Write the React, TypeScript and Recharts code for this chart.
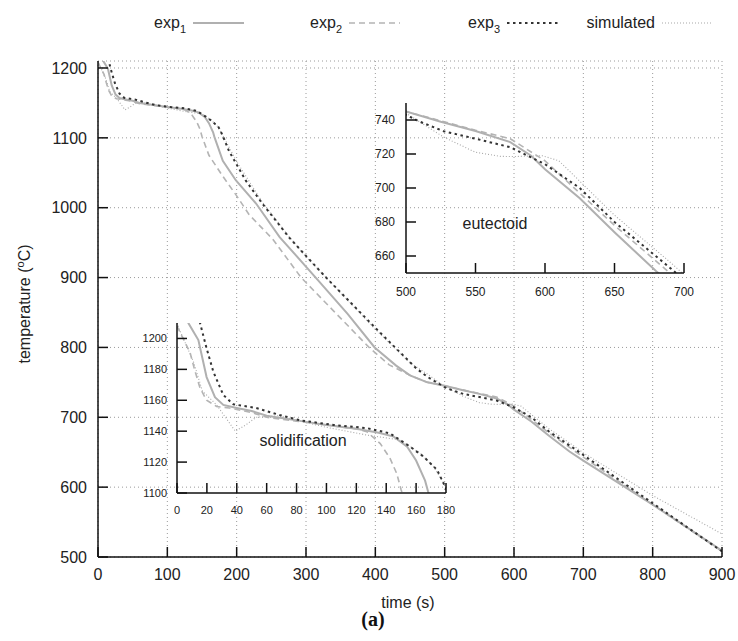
import { CartesianGrid, Line, LineChart, XAxis, YAxis } from "recharts";

const FONT = '"Liberation Sans", Arial, Helvetica, sans-serif';

// time (s) / temperature (°C)
const EXP1_TIME = [5, 7.6, 14.3, 19.8, 25.4, 31, 40, 50, 60, 80, 100, 120, 135, 145, 154, 160, 166, 168, 180, 199, 228, 262, 314, 360, 399, 430, 450, 475, 500, 525, 550, 575, 590, 600, 625, 650, 680, 700, 800, 900];
const EXP1_TEMP = [1218, 1210, 1199, 1175, 1162, 1157, 1155, 1153, 1150, 1147, 1144, 1141.5, 1139, 1136.5, 1130, 1121, 1108, 1101, 1067, 1039, 1006, 958, 900, 848, 800, 774, 760, 750, 745, 739, 733.5, 727, 719, 711, 694, 674, 651, 638, 575, 509];

const EXP2_TIME = [0, 2, 8.7, 12, 15.4, 19.8, 26.5, 35, 50, 60, 80, 100, 120, 127, 136, 142.5, 147, 150, 160, 180, 200, 218, 252, 293, 340, 391, 420, 450, 475, 500, 525, 550, 575, 600, 625, 650, 687, 700, 800, 900];
const EXP2_TEMP = [1208, 1204, 1191, 1179, 1168, 1160, 1156, 1155, 1152, 1149, 1146.5, 1144, 1141.5, 1139.7, 1132, 1122.5, 1112.7, 1102, 1075, 1045, 1017, 990, 955, 900, 852, 800, 775, 760, 750, 745, 739.5, 734, 729, 716, 697, 678, 652, 643, 575, 508];

const EXP3_TIME = [12, 15.4, 19.8, 24.3, 31, 37.7, 53, 68.6, 82.5, 104.8, 127, 142.5, 156, 165, 174, 179.5, 189, 213, 237, 276, 300, 329, 400, 459, 475, 500, 510, 527, 550, 575, 600, 625, 650, 690, 700, 800, 900];
const EXP3_TEMP = [1222, 1210, 1193.6, 1178.5, 1163.4, 1157.4, 1155, 1150.5, 1147, 1144, 1142, 1138.6, 1130, 1123.5, 1115, 1104, 1081, 1039, 1006, 957, 931, 900, 828, 770, 758, 743, 739, 733.4, 729, 724, 714, 700, 680, 653, 646, 577, 508];

const SIM_TIME = [0, 2, 11, 17, 26.5, 39, 46, 53, 68, 80, 100, 127, 149.5, 162.8, 171.7, 178.4, 200, 237, 276, 300, 329, 400, 450, 475, 500, 527, 550, 568, 578, 598, 610, 625, 650, 692, 700, 800, 900];
const SIM_TEMP = [1210, 1205, 1185, 1166, 1157, 1140, 1144, 1149, 1150, 1147, 1142.5, 1137.5, 1134.3, 1125.7, 1117, 1106.5, 1066, 1008, 958, 930, 900, 826, 778, 762, 744, 730, 721, 718.6, 718.5, 719, 716, 704, 684, 655, 649, 588, 533];

const MAIN_X_TICKS = [0, 100, 200, 300, 400, 500, 600, 700, 800, 900];
const MAIN_Y_TICKS = [500, 600, 700, 800, 900, 1000, 1100, 1200];
const EUT_X_TICKS = [500, 550, 600, 650, 700];
const EUT_Y_TICKS = [660, 680, 700, 720, 740];
const SOL_X_TICKS = [0, 20, 40, 60, 80, 100, 120, 140, 160, 180];
const SOL_Y_TICKS = [1100, 1120, 1140, 1160, 1180, 1200];

const zip = (ts: number[], vs: number[]) => ts.map((t, i) => ({ t, T: vs[i] }));

type Series = {
  key: string;
  label: string;
  sub?: string;
  data: { t: number; T: number }[];
  stroke: string;
  width: number;
  dash?: string;
};

// drawing order: simulated underneath, exp3 on top
const SERIES: Series[] = [
  { key: "sim", label: "simulated", data: zip(SIM_TIME, SIM_TEMP), stroke: "#a8a8a8", width: 1.1, dash: "1 2" },
  { key: "exp2", label: "exp", sub: "2", data: zip(EXP2_TIME, EXP2_TEMP), stroke: "#b4b4b4", width: 1.6, dash: "6 4" },
  { key: "exp1", label: "exp", sub: "1", data: zip(EXP1_TIME, EXP1_TEMP), stroke: "#b0b0b0", width: 2 },
  { key: "exp3", label: "exp", sub: "3", data: zip(EXP3_TIME, EXP3_TEMP), stroke: "#333333", width: 2, dash: "2.5 3.5" },
];

const LEGEND_ORDER = ["exp1", "exp2", "exp3", "sim"];
const LEGEND_TEXT_END = [186, 342, 500, 655];

const axisLine = { stroke: "#111", strokeWidth: 1.5 };

function lines() {
  return SERIES.map((s) => (
    <Line
      key={s.key}
      data={s.data}
      dataKey="T"
      type="linear"
      stroke={s.stroke}
      strokeWidth={s.width}
      strokeDasharray={s.dash}
      dot={false}
      activeDot={false}
      isAnimationActive={false}
    />
  ));
}

type InsetProps = {
  left: number;
  top: number;
  width: number;
  height: number;
  yWidth: number;
  xDomain: [number, number];
  yDomain: [number, number];
  xTicks: number[];
  yTicks: number[];
  fontSize: number;
  xMargin: number;
  yMargin: number;
};

function Inset(p: InsetProps) {
  return (
    <div style={{ position: "absolute", left: p.left, top: p.top }}>
      <LineChart width={p.width} height={p.height} margin={{ top: 10, right: 20, bottom: p.height - 10 - 30 - (p.height - 45), left: 0 }}>
        <XAxis
          type="number"
          dataKey="t"
          domain={p.xDomain}
          ticks={p.xTicks}
          interval={0}
          allowDataOverflow
          height={30}
          tickSize={-10}
          tickMargin={p.xMargin}
          axisLine={axisLine}
          tickLine={axisLine}
          tick={{ fill: "#222", fontSize: p.fontSize, fontFamily: FONT }}
        />
        <YAxis
          type="number"
          domain={p.yDomain}
          ticks={p.yTicks}
          interval={0}
          allowDataOverflow
          width={p.yWidth}
          tickSize={-10}
          tickMargin={p.yMargin}
          axisLine={axisLine}
          tickLine={axisLine}
          tick={{ fill: "#222", fontSize: p.fontSize, fontFamily: FONT }}
        />
        {lines()}
      </LineChart>
    </div>
  );
}

function LegendSample({ s, x, y }: { s: Series; x: number; y: number }) {
  return <line x1={x} y1={y} x2={x + 51} y2={y} stroke={s.stroke} strokeWidth={s.width} strokeDasharray={s.dash} />;
}

export default function App() {
  return (
    <div style={{ position: "absolute", left: 0, top: 0, width: 738, height: 641, background: "#fff", fontFamily: FONT }}>
      <div style={{ position: "absolute", left: 0, top: 0 }}>
        <LineChart width={738} height={641} margin={{ top: 61, right: 16, bottom: 54, left: 0 }}>
          <CartesianGrid stroke="#9a9a9a" strokeDasharray="1 3" />
          <XAxis
            type="number"
            dataKey="t"
            domain={[0, 900]}
            ticks={MAIN_X_TICKS}
            interval={0}
            allowDataOverflow
            height={30}
            tickSize={-10}
            tickMargin={22}
            axisLine={axisLine}
            tickLine={axisLine}
            tick={{ fill: "#222", fontSize: 16, fontFamily: FONT }}
          />
          <YAxis
            type="number"
            domain={[500, 1210]}
            ticks={MAIN_Y_TICKS}
            interval={0}
            allowDataOverflow
            width={98}
            tickSize={-10}
            tickMargin={21}
            axisLine={axisLine}
            tickLine={axisLine}
            tick={{ fill: "#222", fontSize: 16, fontFamily: FONT }}
          />
          {lines()}
        </LineChart>
      </div>

      {/* eutectoid inset: plot 406..684 x 103..272 */}
      <Inset left={356} top={93} width={348} height={215} yWidth={50} xDomain={[500, 700]} yDomain={[650, 750]} xTicks={EUT_X_TICKS} yTicks={EUT_Y_TICKS} fontSize={12} xMargin={24} yMargin={21} />

      {/* solidification inset: plot 177..446 x 323..493 */}
      <Inset left={117} top={313} width={349} height={215} yWidth={60} xDomain={[0, 180]} yDomain={[1100, 1210]} xTicks={SOL_X_TICKS} yTicks={SOL_Y_TICKS} fontSize={11} xMargin={23} yMargin={20} />

      <svg width={738} height={641} style={{ position: "absolute", left: 0, top: 0, pointerEvents: "none" }}>
        {LEGEND_ORDER.map((k, i) => {
          const s = SERIES.find((x) => x.key === k)!;
          const end = LEGEND_TEXT_END[i];
          return (
            <g key={k}>
              <text x={end} y={28} textAnchor="end" fontSize={16} fill="#222" fontFamily={FONT}>
                {s.label}
                {s.sub && (
                  <tspan dy={5} fontSize={11}>
                    {s.sub}
                  </tspan>
                )}
              </text>
              <LegendSample s={s} x={end + 7} y={23} />
            </g>
          );
        })}

        <text transform="rotate(-90, 30, 304)" x={30} y={304} textAnchor="middle" fontSize={16} fill="#222" fontFamily={FONT}>
          temperature (
          <tspan dy={-6} fontSize={11}>
            o
          </tspan>
          <tspan dy={6}>C)</tspan>
        </text>
        <text x={408} y={608} textAnchor="middle" fontSize={16} fill="#222" fontFamily={FONT}>
          time (s)
        </text>
        <text x={373} y={626} textAnchor="middle" fontSize={20} fontWeight="bold" fill="#111" fontFamily='"Liberation Serif", "DejaVu Serif", serif'>
          (a)
        </text>
        <text x={495} y={229} textAnchor="middle" fontSize={16} fill="#222" fontFamily={FONT}>
          eutectoid
        </text>
        <text x={303} y={446} textAnchor="middle" fontSize={16} fill="#222" fontFamily={FONT}>
          solidification
        </text>
      </svg>
    </div>
  );
}
